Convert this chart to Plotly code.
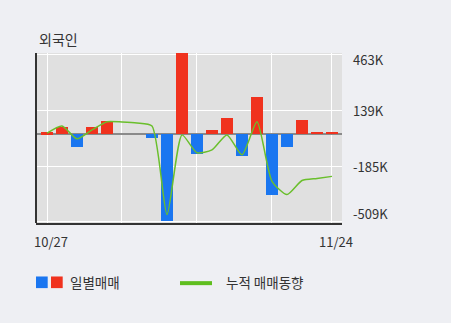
import plotly.graph_objects as go

# ---- data (values in thousands of shares) ----
dates = ["10/27", "10/28", "10/29", "10/30", "11/02", "11/03", "11/04", "11/05", "11/06", "11/09",
         "11/10", "11/11", "11/12", "11/13", "11/16", "11/17", "11/18", "11/19", "11/20", "11/24"]
daily = [11, 44, -72, 44, 75, 0, 0, -20, -503, 470, -116, 25, 96, -124, 218, -355, -72, 83, 13, 13]
cumulative = [6, 48, -27, 25, 73, 71, 65, 48, -467, -4, -108, -91, -4, -120, 73, -274, -351, -269, -257, -245]
tick_vals = [463, 139, -185, -509]
tick_text = ["463K", "139K", "-185K", "-509K"]
label_idx = [0, 19]
grid_idx = [0, 5, 10, 15, 19]

W, H = 451, 323
L, R, T, B = 36, 342, 52.5, 223.5

def px(x):
    return (x - L) / (R - L)

def py(y):
    return (B - y) / (B - T)

idx = list(range(len(dates)))
bar_colors = ["#f0321e" if v >= 0 else "#1a76f0" for v in daily]

fig = go.Figure()
fig.add_trace(go.Bar(x=idx, y=daily, marker=dict(color=bar_colors, line=dict(width=0)),
                     width=0.86, showlegend=False))
fig.add_trace(go.Scatter(x=idx, y=cumulative, mode="lines",
                         line=dict(color="#6abf2c", width=1.5, shape="spline", smoothing=0.6),
                         showlegend=False))

font_family = "Noto Sans CJK KR, DejaVu Sans, sans-serif"

fig.update_layout(
    width=W, height=H,
    margin=dict(l=L, r=W - R, t=T, b=H - B, pad=0),
    paper_bgcolor="#eeeff3",
    plot_bgcolor="#e0e0e0",
    font=dict(family=font_family, color="#333333", size=13),
    bargap=0,
    xaxis=dict(range=[-0.733, 19.667], tickvals=grid_idx, ticktext=[""] * len(grid_idx),
               showgrid=True, gridcolor="#ffffff", gridwidth=1, zeroline=False,
               showline=True, linecolor="#333333", linewidth=2, ticks="", fixedrange=True),
    yaxis=dict(range=[-516, 472], tickvals=tick_vals, ticktext=[""] * 4, side="right",
               showgrid=True, gridcolor="#ffffff", gridwidth=1,
               zeroline=True, zerolinecolor="#8a8a8a", zerolinewidth=2,
               showline=False, ticks="", fixedrange=True),
    showlegend=False,
)

# left axis line
fig.add_shape(type="line", xref="paper", yref="paper", x0=0, x1=0, y0=0, y1=1,
              line=dict(color="#333333", width=2))

ann = []
# y tick labels (shift outer labels inward, in pixels; positive = up)
shifts = [-5, 0, 0, 8]
for v, t, s in zip(tick_vals, tick_text, shifts):
    ann.append(dict(x=1, xref="paper", y=v, yref="y", text=t, showarrow=False,
                    xanchor="left", yanchor="middle", xshift=9, yshift=s,
                    font=dict(size=13, color="#333333")))
# x labels
for i in label_idx:
    ann.append(dict(x=i, xref="x", y=0, yref="paper", text=dates[i], showarrow=False,
                    xanchor="center", yanchor="middle", xshift=4, yshift=-(241.7 - B),
                    font=dict(size=13, color="#333333")))
# title
ann.append(dict(x=px(37), xref="paper", y=py(38.5), yref="paper", text="외국인", showarrow=False,
                xanchor="left", yanchor="middle", font=dict(size=14, color="#333333")))
# legend texts
ann.append(dict(x=px(68), xref="paper", y=py(283), yref="paper", text="일별매매", showarrow=False,
                xanchor="left", yanchor="middle", font=dict(size=13.5, color="#333333")))
ann.append(dict(x=px(224), xref="paper", y=py(283), yref="paper", text="누적 매매동향", showarrow=False,
                xanchor="left", yanchor="middle", font=dict(size=13.5, color="#333333")))
fig.update_layout(annotations=ann)

# legend swatches
fig.add_shape(type="rect", xref="paper", yref="paper", x0=px(36), x1=px(47.7), y0=py(289), y1=py(277.3),
              fillcolor="#1a76f0", line=dict(width=0))
fig.add_shape(type="rect", xref="paper", yref="paper", x0=px(51), x1=px(62.7), y0=py(289), y1=py(277.3),
              fillcolor="#f0321e", line=dict(width=0))
fig.add_shape(type="line", xref="paper", yref="paper", x0=px(180), x1=px(212), y0=py(284), y1=py(284),
              line=dict(color="#5fbe1e", width=4))

fig.write_html("out.html")
